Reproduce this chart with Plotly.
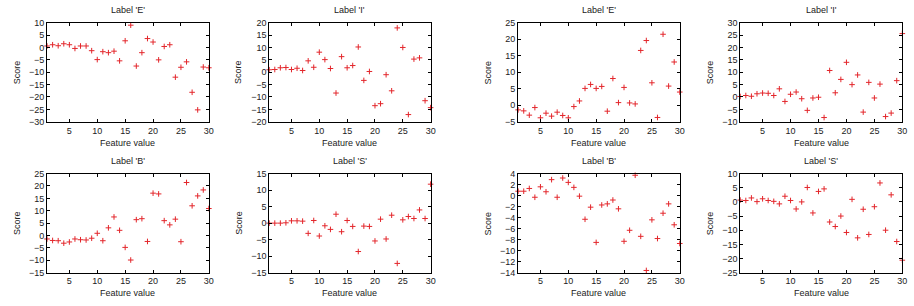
import plotly.graph_objects as go

feature = list(range(1, 31))

titles = ["Label 'E'", "Label 'I'", "Label 'E'", "Label 'I'",
          "Label 'B'", "Label 'S'", "Label 'B'", "Label 'S'"]

e_left = [0.6, 1.1, 0.7, 1.5, 1.1, -0.4, 0.6, 0.6, -1.3, -4.9, -1.7, -2.1, -1.5, -5.4, 2.7,
          9.0, -7.5, -2.1, 3.6, 2.2, -5.0, 0.4, 1.1, -12.0, -8.0, -5.8, -18.1, -25.2, -7.9, -8.2]
i_left = [1.0, 1.1, 1.8, 1.9, 1.1, 1.6, 0.7, 4.6, 2.0, 8.1, 5.1, 1.5, -8.4, 6.3, 1.8,
          2.7, 10.2, -3.3, 0.3, -13.5, -12.7, -1.0, -7.5, 17.9, 10.0, -17.1, 5.3, 5.8, -11.5, -14.3]
e_right = [-1.4, -1.7, -3.0, -0.7, -3.8, -2.4, -3.3, -2.1, -3.1, -3.8, -0.4, 1.3, 5.1, 6.3, 5.1,
           5.7, -1.8, 8.1, 0.8, 5.4, 0.7, 0.4, 16.6, 19.6, 6.8, -3.7, 21.5, 5.8, 13.1, 4.0]
i_right = [0.2, 0.6, 0.3, 1.3, 1.6, 1.5, 0.6, 3.3, -1.8, 1.1, 2.0, -0.7, -5.4, -0.4, -0.1,
           -8.3, 10.7, 1.7, 7.1, 14.0, 5.0, 8.9, -6.1, 5.9, -0.4, 5.2, -7.9, -6.5, 6.6, 25.6]
b_left = [-1.4, -2.0, -2.1, -3.1, -2.6, -1.4, -1.7, -1.8, -1.1, 0.9, -2.1, 3.1, 7.5, 2.1, -4.8,
          -9.9, 6.4, 6.8, -2.4, 17.1, 16.8, 6.0, 4.3, 6.6, -2.5, 21.4, 12.0, 16.0, 18.4, 10.9]
s_left = [0.0, 0.0, 0.0, 0.1, 0.7, 0.7, 0.6, -3.1, 0.8, -3.9, -0.8, -1.9, 2.7, -2.6, 0.8,
          -1.0, -8.6, -0.9, -1.0, -5.4, 1.2, -4.8, 2.4, -12.2, 1.0, 2.0, 1.4, 4.0, 1.4, 11.8]
b_right = [0.8, 0.8, 1.3, -0.3, 1.6, 0.7, 2.9, -0.3, 3.2, 2.4, 1.5, -0.1, -4.3, -2.1, -8.5,
           -1.7, -1.5, -0.8, -2.4, -8.3, -6.3, 3.7, -7.4, -13.6, -4.4, -7.8, -3.2, -1.5, -5.3, -8.7]
s_right = [0.65, 0.5, 1.4, 0.1, 1.1, 0.5, 0.2, -0.7, 2.0, 0.5, -2.5, 0.0, 5.1, -3.9, 3.7,
           4.6, -7.1, -8.7, -5.0, -10.8, 0.9, -12.7, -2.6, -11.5, -1.7, 6.7, -10.0, 2.5, -14.0, -20.6]

series = [e_left, i_left, e_right, i_right, b_left, s_left, b_right, s_right]
y_ranges = [(-30, 10), (-20, 20), (-5, 25), (-10, 30),
            (-15, 25), (-15, 15), (-14, 4), (-25, 10)]
y_dticks = [5, 5, 5, 5, 5, 5, 2, 5]
x_ticks = [5, 10, 15, 20, 25, 30]

W, H = 914, 306
col_px = [(47.3, 210.0), (270.7, 433.0), (521.0, 683.5), (744.3, 907.3)]
row_px = [(18.3, 120.7), (174.3, 276.7)]
title_y_px = [5.5, 161.0]
xlabel_y_px = [142.7, 297.7]
ylabel_x_px = [17.0, 240.0, 491.0, 714.0]

RED = "#e3262b"
FONT = "Liberation Sans, Arial, sans-serif"
TXT = "#222222"
FS = 9

fig = go.Figure()
annotations = []
for k in range(8):
    r, c = divmod(k, 4)
    n = k + 1
    xa = "x" if n == 1 else f"x{n}"
    ya = "y" if n == 1 else f"y{n}"
    fig.add_trace(go.Scatter(
        x=feature, y=series[k], mode="markers", xaxis=xa, yaxis=ya,
        marker=dict(symbol="cross-thin", size=4, color=RED,
                    line=dict(color=RED, width=1)),
        showlegend=False, cliponaxis=False, hoverinfo="x+y"))
    x0, x1 = col_px[c]
    top, bot = row_px[r]
    axis_common = dict(showline=True, linecolor="black", linewidth=1, mirror="ticks",
                       ticks="inside", ticklen=3, tickwidth=1, tickcolor="black",
                       showgrid=False, zeroline=False,
                       tickfont=dict(family=FONT, size=FS, color=TXT))
    fig.update_layout(**{
        ("xaxis" if n == 1 else f"xaxis{n}"): dict(
            domain=[x0 / W, x1 / W], anchor=ya, range=[1, 30],
            tickvals=x_ticks, **axis_common),
        ("yaxis" if n == 1 else f"yaxis{n}"): dict(
            domain=[1 - bot / H, 1 - top / H], anchor=xa, range=list(y_ranges[k]),
            dtick=y_dticks[k], tick0=0, **axis_common),
    })
    cx = (x0 + x1) / 2 / W
    annotations.append(dict(text=titles[k], x=cx, y=1 - title_y_px[r] / H,
                            xref="paper", yref="paper", showarrow=False,
                            xanchor="center", yanchor="middle",
                            font=dict(family=FONT, size=FS, color=TXT)))
    annotations.append(dict(text="Feature value", x=cx, y=1 - xlabel_y_px[r] / H,
                            xref="paper", yref="paper", showarrow=False,
                            xanchor="center", yanchor="middle",
                            font=dict(family=FONT, size=FS, color=TXT)))
    annotations.append(dict(text="Score", x=ylabel_x_px[c] / W,
                            y=1 - (top + bot) / 2 / H,
                            xref="paper", yref="paper", showarrow=False, textangle=-90,
                            xanchor="center", yanchor="middle",
                            font=dict(family=FONT, size=FS, color=TXT)))

fig.update_layout(width=W, height=H, margin=dict(l=0, r=0, t=0, b=0),
                  paper_bgcolor="white", plot_bgcolor="white",
                  annotations=annotations, showlegend=False)

fig.write_html("out.html")
